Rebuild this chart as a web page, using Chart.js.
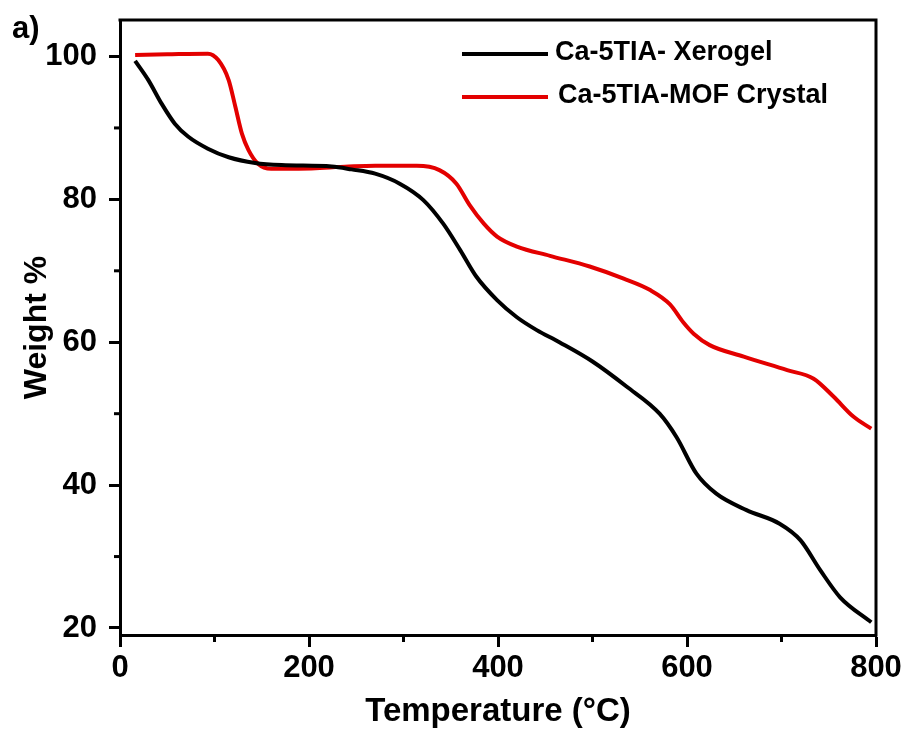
<!DOCTYPE html>
<html>
<head>
<meta charset="utf-8">
<script src="https://cdn.jsdelivr.net/npm/chart.js@4"></script>
<style>
  html, body { margin: 0; padding: 0; background: #ffffff; }
  #wrap { width: 907px; height: 732px; }
</style>
</head>
<body>
<div id="wrap"><canvas id="c" width="907" height="732"></canvas></div>
<script>
// ---- data ----
const xerogelTemp   = [16, 30, 44, 58, 72, 93, 115, 143, 171, 224, 245, 270, 296, 321, 342, 360, 377, 399, 420, 441, 465, 500, 536, 571, 589, 610, 631, 663, 698, 720, 741, 762, 795];
const xerogelWeight = [99.4, 96.7, 93.4, 90.6, 88.8, 87.1, 85.9, 85.1, 84.8, 84.6, 84.2, 83.6, 82.2, 79.9, 76.6, 72.9, 69.2, 65.9, 63.5, 61.7, 60.0, 57.3, 53.8, 50.0, 46.7, 41.6, 38.8, 36.5, 34.6, 32.3, 28.1, 24.3, 20.8];

const mofTemp   = [16, 50, 93, 104, 115, 122, 129, 136, 146, 160, 189, 242, 270, 314, 338, 356, 370, 385, 399, 420, 455, 497, 533, 561, 582, 596, 607, 624, 660, 706, 734, 755, 776, 795];
const mofWeight = [100.2, 100.3, 100.4, 99.5, 96.7, 93.0, 89.2, 86.9, 85.0, 84.3, 84.3, 84.6, 84.7, 84.7, 84.1, 82.2, 79.2, 76.6, 74.8, 73.4, 72.1, 70.6, 68.9, 67.3, 65.3, 62.8, 61.2, 59.6, 58.0, 56.1, 54.9, 52.4, 49.6, 47.9];

const seriesLabels = ['Ca-5TIA- Xerogel', 'Ca-5TIA-MOF Crystal'];
const seriesColors = ['#000000', '#e30000'];

const xTickValues  = [0, 100, 200, 300, 400, 500, 600, 700, 800];
const xTickLabeled = [0, 200, 400, 600, 800];
const yTickValues  = [20, 30, 40, 50, 60, 70, 80, 90, 100];
const yTickLabeled = [20, 40, 60, 80, 100];

const xTitle = 'Temperature (\u00B0C)';
const yTitle = 'Weight %';
const panelLabel = 'a)';

// ---- build chart ----
const FONT = '"Liberation Sans", Arial, Helvetica, sans-serif';
const toPts = (xs, ys) => xs.map((x, i) => ({ x: x, y: ys[i] }));

const boxAndMinor = {
  id: 'boxAndMinor',
  afterDraw(chart) {
    const ctx = chart.ctx;
    const a = chart.chartArea;
    const xs = chart.scales.x, ys = chart.scales.y;
    ctx.save();
    ctx.strokeStyle = '#000';
    ctx.lineWidth = 3;
    ctx.lineCap = 'butt';
    // top and right frame
    ctx.beginPath();
    ctx.moveTo(a.left - 1.5, a.top);
    ctx.lineTo(a.right, a.top);
    ctx.lineTo(a.right, a.bottom + 1.5);
    ctx.stroke();
    // minor ticks
    xTickValues.filter(v => !xTickLabeled.includes(v)).forEach(v => {
      const px = xs.getPixelForValue(v);
      ctx.beginPath();
      ctx.moveTo(px, a.bottom);
      ctx.lineTo(px, a.bottom + 7);
      ctx.stroke();
    });
    yTickValues.filter(v => !yTickLabeled.includes(v)).forEach(v => {
      const py = ys.getPixelForValue(v);
      ctx.beginPath();
      ctx.moveTo(a.left, py);
      ctx.lineTo(a.left - 6, py);
      ctx.stroke();
    });
    // legend
    const ds = chart.data.datasets;
    const rows = [54, 97];
    const txtX = [555, 558];
    ds.forEach((d, i) => {
      ctx.strokeStyle = d.borderColor;
      ctx.lineWidth = 4;
      ctx.beginPath();
      ctx.moveTo(462, rows[i]);
      ctx.lineTo(548, rows[i]);
      ctx.stroke();
      ctx.fillStyle = '#000';
      ctx.font = 'bold 27px ' + FONT;
      ctx.textBaseline = 'middle';
      ctx.textAlign = 'left';
      ctx.fillText(d.label, txtX[i], rows[i] - 1);
    });
    // panel label
    ctx.font = 'bold 31px ' + FONT;
    ctx.textBaseline = 'alphabetic';
    ctx.fillText(panelLabel, 12, 38);
    ctx.restore();
  }
};

new Chart(document.getElementById('c'), {
  type: 'line',
  data: {
    datasets: [
      { label: seriesLabels[0], data: toPts(xerogelTemp, xerogelWeight), borderColor: seriesColors[0], backgroundColor: seriesColors[0], borderWidth: 4, pointRadius: 0, cubicInterpolationMode: 'monotone', fill: false },
      { label: seriesLabels[1], data: toPts(mofTemp, mofWeight), borderColor: seriesColors[1], backgroundColor: seriesColors[1], borderWidth: 4, pointRadius: 0, cubicInterpolationMode: 'monotone', fill: false }
    ]
  },
  options: {
    responsive: false,
    animation: false,
    devicePixelRatio: 1,
    layout: { padding: { left: 0, top: 20, right: 31, bottom: 0 } },
    plugins: { legend: { display: false }, tooltip: { enabled: false }, title: { display: false } },
    scales: {
      x: {
        type: 'linear',
        min: 0, max: 800,
        afterFit: s => { s.height = 97; s.paddingLeft = 0; s.paddingRight = 0; },
        afterBuildTicks: s => { s.ticks = xTickValues.map(v => ({ value: v })); },
        border: { display: true, color: '#000', width: 3 },
        grid: {
          drawOnChartArea: false, drawTicks: true, tickLength: 12, tickWidth: 3,
          tickColor: c => (c.tick && xTickLabeled.includes(c.tick.value)) ? '#000' : 'rgba(0,0,0,0)'
        },
        ticks: {
          autoSkip: false, maxRotation: 0, padding: 3, color: '#000',
          font: { family: FONT, size: 31, weight: 'bold' },
          callback: v => xTickLabeled.includes(v) ? String(v) : ''
        },
        title: { display: true, text: xTitle, color: '#000', font: { family: FONT, size: 33, weight: 'bold' }, padding: { top: 6, bottom: 0 } }
      },
      y: {
        type: 'linear',
        min: 19.02, max: 105.11,
        afterFit: s => { s.width = 120; s.paddingTop = 0; s.paddingBottom = 0; },
        afterBuildTicks: s => { s.ticks = yTickValues.map(v => ({ value: v })); },
        border: { display: true, color: '#000', width: 3 },
        grid: {
          drawOnChartArea: false, drawTicks: true, tickLength: 11, tickWidth: 3,
          tickColor: c => (c.tick && yTickLabeled.includes(c.tick.value)) ? '#000' : 'rgba(0,0,0,0)'
        },
        ticks: {
          autoSkip: false, padding: 12, color: '#000',
          font: { family: FONT, size: 31, weight: 'bold' },
          callback: v => yTickLabeled.includes(v) ? String(v) : ''
        },
        title: { display: true, text: yTitle, color: '#000', font: { family: FONT, size: 32, weight: 'bold' }, padding: { top: 18, bottom: 0 } }
      }
    }
  },
  plugins: [boxAndMinor]
});
</script>
</body>
</html>
